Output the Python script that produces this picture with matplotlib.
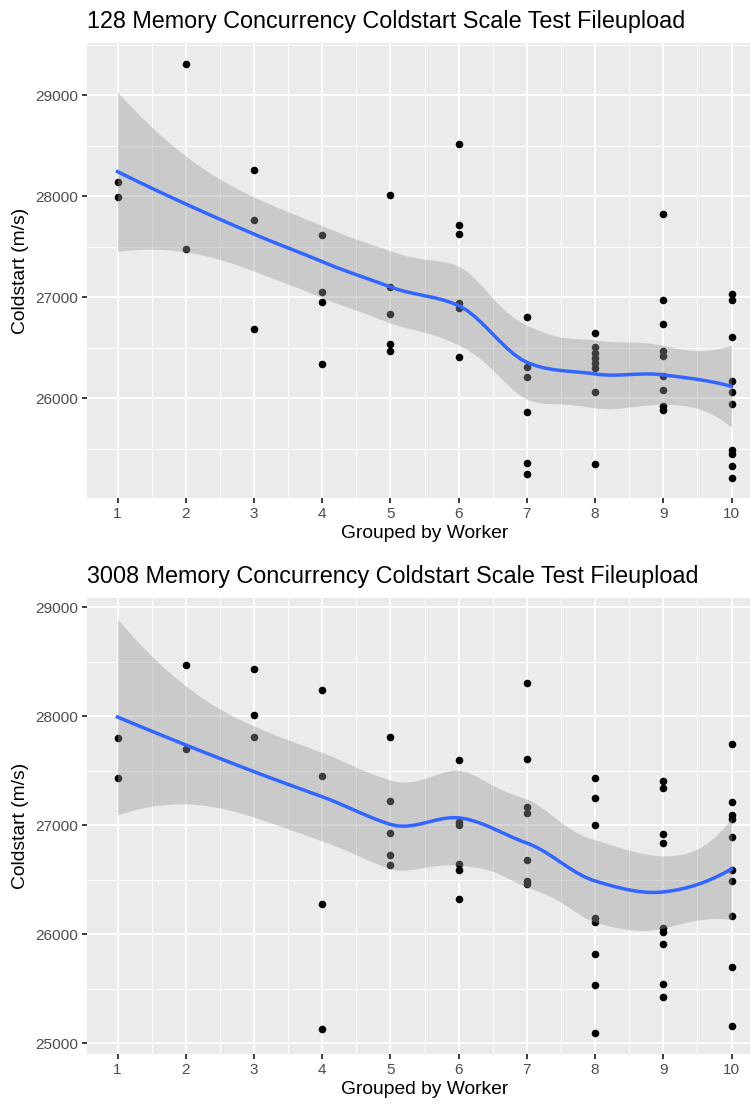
import numpy as np
import matplotlib.pyplot as plt

plt.rcParams['font.family'] = ['Liberation Sans', 'DejaVu Sans']

workers = list(range(1, 11))

# coldstart per run, one list per worker count (128 MB)
cold_128 = [
    [28141, 27995],
    [29314, 27483],
    [28258, 27763, 26686],
    [27616, 27054, 26955, 26338],
    [28018, 27102, 26839, 26540, 26468],
    [28516, 27719, 27630, 26941, 26898, 26407],
    [26806, 26314, 26208, 25861, 25364, 25254],
    [26648, 26510, 26450, 26400, 26350, 26300, 26059, 25350],
    [27821, 26979, 26737, 26465, 26420, 26226, 26086, 25926, 25885],
    [27030, 26975, 26608, 26175, 26059, 25945, 25490, 25445, 25334, 25216],
]

# same test with 3008 MB
cold_3008 = [
    [27802, 27436],
    [28466, 27695],
    [28430, 28015, 27808],
    [28242, 27455, 26279, 25133],
    [27811, 27222, 26927, 26723, 26632],
    [27594, 27031, 27005, 26642, 26587, 26321],
    [28300, 27607, 27170, 27112, 26684, 26490, 26457],
    [27436, 27251, 27005, 26153, 26117, 25823, 25531, 25091],
    [27410, 27345, 26921, 26836, 26059, 26020, 25913, 25547, 25421],
    [27747, 27210, 27095, 27055, 26892, 26590, 26487, 26166, 25696, 25162],
]

titles = ["128 Memory Concurrency Coldstart Scale Test Fileupload",
          "3008 Memory Concurrency Coldstart Scale Test Fileupload"]


def t975(df):
    # Cornish-Fisher approximation of the t quantile
    z = 1.959964
    g1 = (z**3 + z) / 4
    g2 = (5 * z**5 + 16 * z**3 + 3 * z) / 96
    g3 = (3 * z**7 + 19 * z**5 + 17 * z**3 - 15 * z) / 384
    return z + g1 / df + g2 / df**2 + g3 / df**3


def kd_vertices(xs, fc):
    # 1-d version of the loess kd tree: split cells near the median
    xs = np.sort(xs)
    margin = 0.005 * (xs[-1] - xs[0])
    verts = {xs[0] - margin, xs[-1] + margin}

    def split(l, u, vlo, vhi):
        if u - l + 1 <= fc:
            return
        m = (l + u + 2) // 2 - 1
        off = 0
        while l <= m + off < u:
            if xs[m + off] == xs[m + off + 1]:
                off = -off
                if off >= 0:
                    off += 1
            else:
                m = m + off
                break
        t = xs[m]
        if t == vlo or t == vhi:
            return
        verts.add(t)
        split(l, m, vlo, t)
        split(m + 1, u, t, vhi)

    split(0, len(xs) - 1, xs[0] - margin, xs[-1] + margin)
    return np.array(sorted(verts))


def loess(x, y, grid, span=0.75, cell=0.2):
    n = len(x)
    q = int(np.floor(n * span))

    # local quadratic at each vertex: rows giving value and slope
    verts = kd_vertices(x, int(np.floor(n * span * cell)))
    val = np.zeros((len(verts), n))
    slope = np.zeros((len(verts), n))
    for k, v in enumerate(verts):
        d = np.abs(x - v)
        h = np.sort(d)[q - 1]
        w = np.clip(1 - (d / h) ** 3, 0, None) ** 3
        X = np.column_stack([np.ones(n), x - v, (x - v) ** 2])
        XtW = X.T * w
        B = np.linalg.solve(XtW @ X, XtW)
        val[k], slope[k] = B[0], B[1]

    def rows(pts):
        # cubic hermite blend between vertices
        L = np.zeros((len(pts), n))
        for k, p in enumerate(pts):
            i = np.clip(np.searchsorted(verts, p) - 1, 0, len(verts) - 2)
            v0, v1 = verts[i], verts[i + 1]
            hh = v1 - v0
            t = (p - v0) / hh
            h00 = 2 * t**3 - 3 * t**2 + 1
            h10 = t**3 - 2 * t**2 + t
            h01 = -2 * t**3 + 3 * t**2
            h11 = t**3 - t**2
            L[k] = h00 * val[i] + h10 * hh * slope[i] + h01 * val[i + 1] + h11 * hh * slope[i + 1]
        return L

    L_hat = rows(x)
    L_grid = rows(grid)
    fit = L_grid @ y
    R = np.eye(n) - L_hat
    A = R.T @ R
    d1 = np.trace(A)
    d2 = np.trace(A @ A)
    s = np.sqrt(np.sum((R @ y) ** 2) / d1)
    se = s * np.sqrt(np.sum(L_grid**2, axis=1))
    tq = t975(d1**2 / d2)
    return fit, fit - tq * se, fit + tq * se


fig = plt.figure(figsize=(7.5, 11.04), dpi=100)
W, H = 750, 1104
panels = [(43, 498.3), (598.4, 1054.2)]
left_px, right_px = 86.8, 762.2

for data, title, (top, bottom) in zip([cold_128, cold_3008], titles, panels):
    ax = fig.add_axes([left_px / W, 1 - bottom / H, (right_px - left_px) / W, (bottom - top) / H])
    ax.set_facecolor('#EBEBEB')

    x = np.concatenate([[w] * len(v) for w, v in zip(workers, data)]).astype(float)
    y = np.concatenate(data).astype(float)
    grid = np.linspace(1, 10, 80)
    fit, lo, hi = loess(x, y, grid)

    ax.scatter(x, y, s=30, color='black', linewidths=0, zorder=2)
    ax.fill_between(grid, lo, hi, color='#999999', alpha=0.4, linewidth=0, zorder=3)
    ax.plot(grid, fit, color='#3366FF', lw=2.5, zorder=4)

    ymin = min(y.min(), lo.min())
    ymax = max(y.max(), hi.max())
    pad = 0.05 * (ymax - ymin)
    ax.set_xlim(0.55, 10.45)

    ax.set_xticks(workers)
    ax.set_xticks(np.arange(1.5, 10, 1), minor=True)
    yt = np.arange(25000, 29001, 1000)
    ax.set_yticks(yt)
    ax.set_yticklabels([str(v) for v in yt])
    ax.set_yticks(np.arange(24500, 30000, 1000), minor=True)
    ax.set_ylim(ymin - pad, ymax + pad)

    ax.set_axisbelow(True)
    ax.grid(which='major', color='white', lw=1.35)
    ax.grid(which='minor', color='white', lw=0.68)
    for sp in ax.spines.values():
        sp.set_visible(False)
    ax.tick_params(which='major', length=3.5, width=1.35, color='#333333',
                   labelsize=11.1, labelcolor='#4D4D4D', pad=2.5)
    ax.tick_params(which='minor', length=0)

    ax.set_xlabel("Grouped by Worker", fontsize=13.9, labelpad=3)
    ax.set_ylabel("Coldstart (m/s)", fontsize=13.9, labelpad=5)
    ax.set_title(title, loc='left', fontsize=16.8, pad=11)

fig.savefig("out.png", dpi=100)
